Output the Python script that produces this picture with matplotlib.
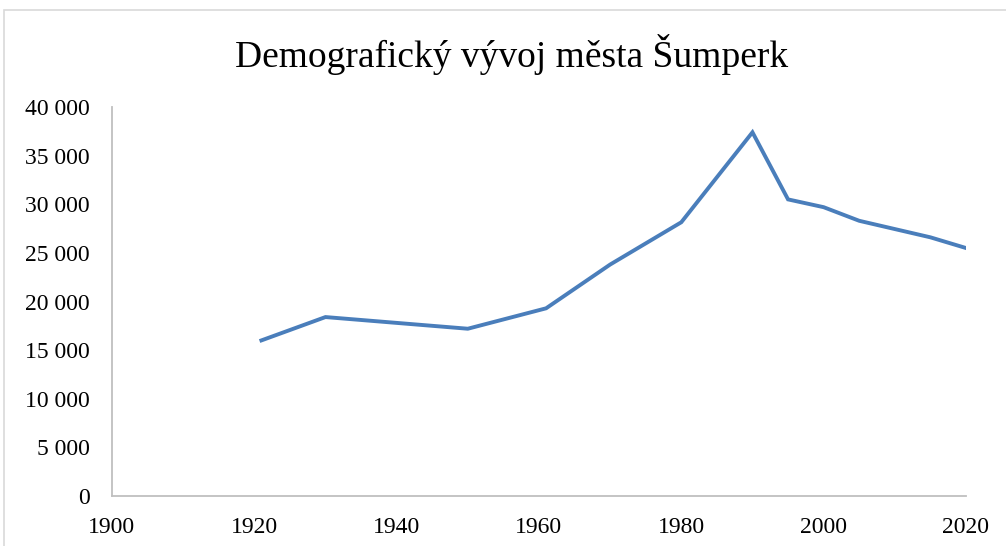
import matplotlib
matplotlib.use('Agg')
import matplotlib.pyplot as plt
from matplotlib.ticker import FuncFormatter, MultipleLocator
from matplotlib.patches import Rectangle

plt.rcParams['font.family'] = ['Liberation Serif', 'DejaVu Serif']

years = [1921, 1930, 1950, 1961, 1970, 1980, 1990, 1995, 2000, 2005, 2015, 2020]
population = [16000, 18400, 17200, 19300, 23800, 28150, 37400, 30500, 29700, 28300, 26600, 25500]
title = 'Demografický vývoj města Šumperk'

fig = plt.figure(figsize=(10.06, 5.46), dpi=100)
ax = fig.add_axes([0.1113, 0.0916, 0.8489, 0.7124])

# outer chart border (right/bottom run off the image)
fig.patches.append(Rectangle((4 / 1006, -0.1), 1.2, (546 - 10) / 546 + 0.1,
                             transform=fig.transFigure, fill=False,
                             edgecolor='#d9d9d9', linewidth=1.2))

ax.plot(years, population, color='#4a7ebb', linewidth=2.8, solid_joinstyle='miter')

ax.set_xlim(1900, 2020)
ax.set_ylim(0, 40000)
ax.xaxis.set_major_locator(MultipleLocator(20))
ax.yaxis.set_major_locator(MultipleLocator(5000))
ax.yaxis.set_major_formatter(FuncFormatter(lambda v, p: f'{int(v):,}'.replace(',', ' ')))

for s in ['top', 'right']:
    ax.spines[s].set_visible(False)
for s in ['left', 'bottom']:
    ax.spines[s].set_color('#bfbfbf')
    ax.spines[s].set_linewidth(1.3)

ax.tick_params(axis='both', length=0, labelsize=17, colors='black')
ax.tick_params(axis='y', pad=16)
ax.tick_params(axis='x', pad=15)

fig.text(0.509, 0.9, title, ha='center', va='center', fontsize=27)

fig.savefig('out.png', dpi=100)
